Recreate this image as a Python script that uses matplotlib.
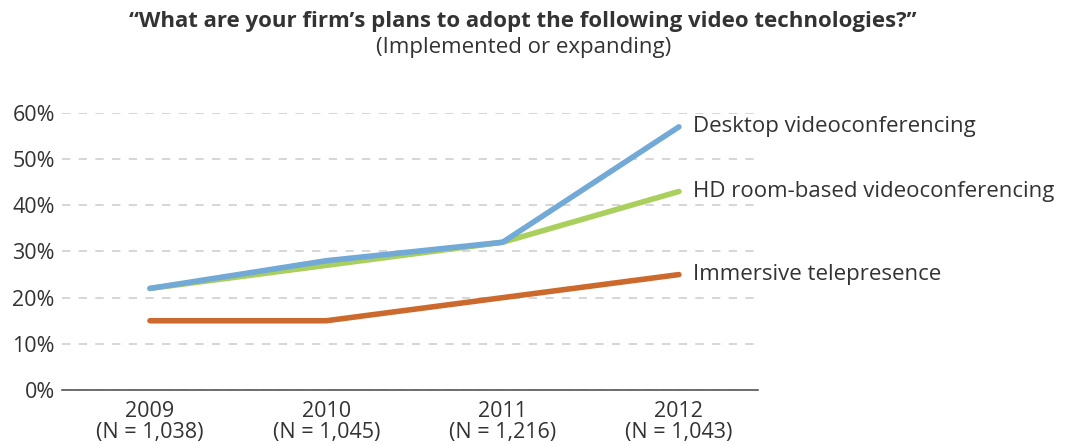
import numpy as np
import matplotlib.pyplot as plt
import matplotlib.ticker as mticker

plt.rcParams['font.family'] = ['Open Sans', 'DejaVu Sans']

years = ['2009', '2010', '2011', '2012']
sample_sizes = ['1,038', '1,045', '1,216', '1,043']
desktop = [22, 28, 32, 57]
hd_room = [22, 27, 32, 43]
immersive = [15, 15, 20, 25]

series = [
    ('HD room-based videoconferencing', hd_room, '#a9cf5c'),
    ('Desktop videoconferencing', desktop, '#72a9d6'),
    ('Immersive telepresence', immersive, '#cc6a2e'),
]

text_col = '#333333'

fig = plt.figure(figsize=(10.65, 4.45), dpi=100)
ax = fig.add_axes([0.058, 0.1236, 0.654, 0.6225])

x = np.arange(len(years))
for name, vals, col in series:
    v = np.array(vals) / 100
    ax.plot(x, v, color=col, lw=4, solid_capstyle='round', clip_on=False, zorder=3)
    ax.text(x[-1] + 0.08, v[-1], name, fontsize=16, color=text_col,
            va='center', ha='left')

ax.set_xlim(-0.5, 3.45)
ax.set_ylim(0, 0.6)
ax.yaxis.set_major_locator(mticker.MultipleLocator(0.1))
ax.yaxis.set_major_formatter(mticker.PercentFormatter(1.0, decimals=0))
ax.set_xticks(x)
ax.set_xticklabels([f'{y}\n(N = {n})' for y, n in zip(years, sample_sizes)],
                   linespacing=1.0)

ax.grid(axis='y', color='#d0d0d0', linestyle=(0, (5, 5)), lw=1.2)
ax.set_axisbelow(True)
for s in ['top', 'right', 'left']:
    ax.spines[s].set_visible(False)
ax.spines['bottom'].set_color('#555555')
ax.spines['bottom'].set_linewidth(1.2)
ax.tick_params(axis='both', length=0, labelsize=15.5, colors=text_col)
ax.tick_params(axis='y', pad=5)
ax.tick_params(axis='x', pad=8)

fig.text(0.491, 0.952, '\u201cWhat are your firm\u2019s plans to adopt the following video technologies?\u201d',
         ha='center', va='center', fontsize=16, fontweight='bold', color=text_col)
fig.text(0.492, 0.893, '(Implemented or expanding)', ha='center', va='center',
         fontsize=16, color=text_col)

fig.savefig('out.png', dpi=100)
